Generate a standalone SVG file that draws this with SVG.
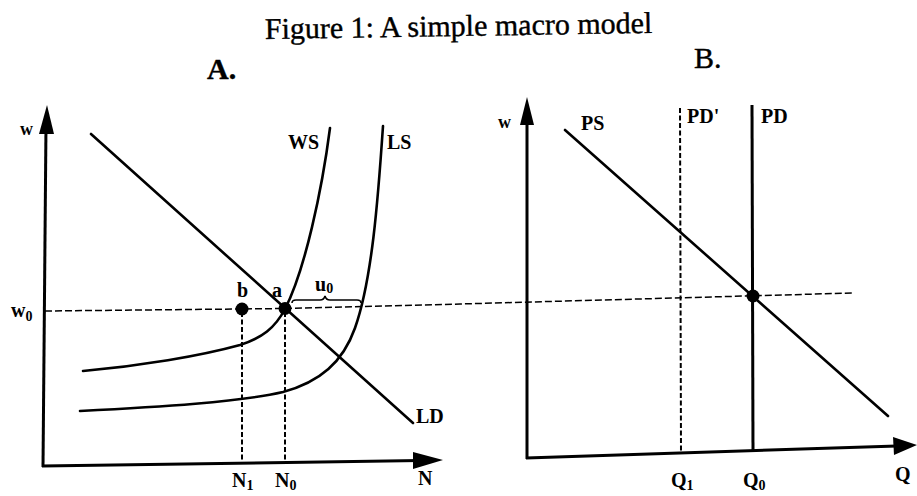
<svg xmlns="http://www.w3.org/2000/svg" width="917" height="496" viewBox="0 0 917 496">
<style>
.ax{stroke:#000;stroke-width:3;fill:none}
.cv{stroke:#000;stroke-width:2.6;fill:none;stroke-linecap:round}
.dsh{stroke:#000;stroke-width:1.5;fill:none;stroke-dasharray:7 3}
.dshv{stroke:#000;stroke-width:2;fill:none;stroke-dasharray:5 2.5}
.lb{font-family:"Liberation Serif","Times New Roman",serif;font-weight:bold;font-size:20px;fill:#000}
.sm{font-family:"Liberation Serif","Times New Roman",serif;font-weight:bold;font-size:18px;fill:#000}
.ttl{font-family:"Liberation Serif","Times New Roman",serif;font-size:30px;fill:#000;stroke:#000;stroke-width:0.4}
</style>
<rect width="917" height="496" fill="#fff"/>
<g id="title">
<text class="ttl" x="265" y="39" transform="rotate(-0.9 265 39)">Figure 1: A simple macro model</text>
<text class="ttl" x="207" y="79" font-weight="bold" font-size="25">A.</text>
<text class="ttl" x="694" y="68" font-size="25">B.</text>
</g>
<g id="connectors">
<polyline class="dsh" points="45,311 285,308.5 460,304 853,293"/>
<line class="dshv" x1="242" y1="312" x2="242" y2="463"/>
<line class="dshv" x1="285" y1="312" x2="285" y2="461"/>
<line class="dshv" x1="680" y1="108" x2="681" y2="452"/>
</g>
<g id="panelA">
<line class="ax" x1="46" y1="125" x2="43" y2="467"/>
<line class="ax" x1="42" y1="466" x2="420" y2="460.5"/>
<polygon points="47,105 39,134 54,134" fill="#000"/>
<polygon points="443,460 413,452 413,469" fill="#000"/>
<line class="cv" x1="91" y1="134" x2="413" y2="423"/>
<path class="cv" d="M 330 128 C 322 190, 305 270, 285 309 C 275 328, 262 338, 240 345 C 200 356, 140 366, 83 371"/>
<path class="cv" d="M 383 126 C 378 200, 372 280, 355 328 C 343 362, 320 382, 283 392 C 240 402, 160 407, 80 411"/>
<path d="M 292 303 Q 292 300 296 300 L 320 300 Q 324 300 325 296 Q 326 300 330 300 L 357 300 Q 361 300 361 303" stroke="#000" stroke-width="1.6" fill="none"/>
<circle cx="242" cy="309" r="6.5" fill="#000"/>
<circle cx="285" cy="308.5" r="6.5" fill="#000"/>
<text class="sm" x="20" y="135">w</text>
<text class="lb" x="11" y="317">w<tspan font-size="14" dy="4">0</tspan></text>
<text class="lb" x="288" y="149">WS</text>
<text class="lb" x="387" y="149">LS</text>
<text class="lb" x="416" y="423">LD</text>
<text class="lb" x="237" y="297">b</text>
<text class="lb" x="272" y="297">a</text>
<text class="lb" x="315" y="291">u<tspan font-size="14" dy="2">0</tspan></text>
<text class="lb" x="232" y="487">N<tspan font-size="14" dy="3">1</tspan></text>
<text class="lb" x="275" y="487">N<tspan font-size="14" dy="3">0</tspan></text>
<text class="lb" x="418" y="485">N</text>
</g>
<g id="panelB">
<line class="ax" x1="527" y1="120" x2="527" y2="459"/>
<line class="ax" x1="526" y1="458" x2="897" y2="446"/>
<polygon points="527,97 520,125 534,125" fill="#000"/>
<polygon points="917,445 893,437 894,455" fill="#000"/>
<line class="cv" x1="565" y1="130" x2="888" y2="416"/>
<line x1="752" y1="105" x2="753" y2="451" stroke="#000" stroke-width="3"/>
<circle cx="753" cy="296" r="6.5" fill="#000"/>
<text class="sm" x="498" y="128">w</text>
<text class="lb" x="581" y="130">PS</text>
<text class="lb" x="687" y="123">PD'</text>
<text class="lb" x="761" y="123">PD</text>
<text class="lb" x="671" y="487">Q<tspan font-size="14" dy="3">1</tspan></text>
<text class="lb" x="743" y="487">Q<tspan font-size="14" dy="3">0</tspan></text>
<text class="lb" x="895" y="481">Q</text>
</g>
</svg>
